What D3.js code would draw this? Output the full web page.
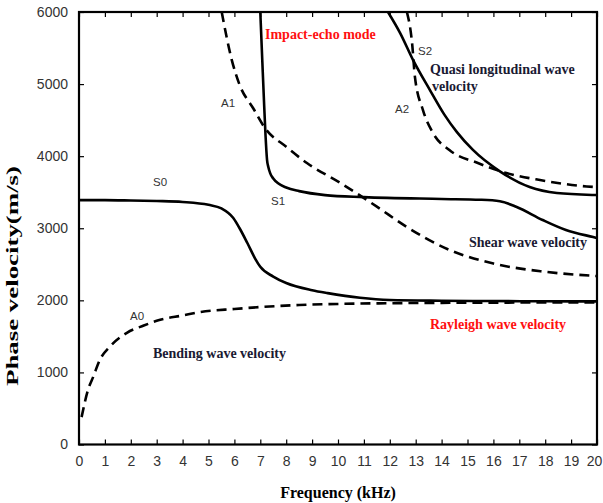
<!DOCTYPE html>
<html>
<head>
<meta charset="utf-8">
<script src="https://cdn.jsdelivr.net/npm/d3@7"></script>
<style>
body { margin: 0; background: #fff; }
svg { display: block; }
</style>
</head>
<body>
<svg width="603" height="503"></svg>
<script>
const width = 603
const height = 503
const margin = {top: 12, right: 6, bottom: 58.5, left: 79}

// x ticks (kHz) and y ticks (m/s)
const xTicks = d3.range(0, 21)
const yTicks = [0, 1000, 2000, 3000, 4000, 5000, 6000]

// symmetric modes (solid)
const s0Freq = [0, 1, 2, 3, 4, 5, 5.5, 5.95, 6.2, 6.5, 6.8, 7, 7.5, 8, 9, 9.6, 10.85, 12, 14, 16, 18, 20]
const s0Vel  = [3390, 3390, 3385, 3378, 3365, 3325, 3275, 3145, 3000, 2795, 2580, 2465, 2330, 2240, 2140, 2100, 2035, 2005, 1995, 1990, 1987, 1985]

const s1Freq = [7.0, 7.08, 7.15, 7.2, 7.26, 7.31, 7.38, 7.5, 7.7, 8.0, 8.5, 9.5, 11, 14, 15.5, 16.25, 16.9, 17.9, 18.8, 19.85, 20]
const s1Vel  = [6000, 5300, 4700, 4300, 3950, 3850, 3765, 3690, 3620, 3565, 3515, 3460, 3432, 3406, 3395, 3375, 3295, 3115, 2976, 2878, 2865]

const s2Freq = [11.93, 12.4, 12.9, 13.55, 14.1, 14.6, 15.2, 16.25, 17.4, 18.45, 19.9, 20]
const s2Vel  = [6000, 5708, 5333, 4917, 4580, 4330, 4090, 3790, 3572, 3489, 3461, 3460]

// antisymmetric modes (dashed)
const a0Freq = [0.1, 0.35, 0.55, 0.8, 1.2, 1.85, 2.5, 3.1, 4, 4.7, 6, 7, 8.5, 10, 12, 14, 16, 18, 20]
const a0Vel  = [380, 760, 940, 1170, 1360, 1550, 1650, 1727, 1790, 1838, 1880, 1907, 1935, 1950, 1960, 1965, 1968, 1970, 1970]

const a1Freq = [5.51, 5.9, 6.2, 6.72, 7.18, 8, 8.8, 10.08, 11.5, 12.66, 14.3, 16, 17.9, 20]
const a1Vel  = [6000, 5333, 4990, 4668, 4390, 4130, 3905, 3630, 3300, 3017, 2700, 2510, 2400, 2337]

const a2Freq = [12.66, 12.86, 12.97, 13.28, 13.67, 14.3, 15.4, 16.5, 17.8, 19.6, 20]
const a2Vel  = [6000, 5570, 5100, 4640, 4320, 4085, 3905, 3766, 3669, 3580, 3570]

const modes = [
	{name: "S0", f: s0Freq, v: s0Vel, dashed: false, lx: 153, ly: 183},
	{name: "S1", f: s1Freq, v: s1Vel, dashed: false, lx: 271, ly: 202},
	{name: "S2", f: s2Freq, v: s2Vel, dashed: false, lx: 418, ly: 52},
	{name: "A0", f: a0Freq, v: a0Vel, dashed: true, lx: 130, ly: 317},
	{name: "A1", f: a1Freq, v: a1Vel, dashed: true, lx: 221, ly: 104},
	{name: "A2", f: a2Freq, v: a2Vel, dashed: true, lx: 395, ly: 110}
]

const svg = d3.select("svg")

const x = d3.scaleLinear().domain([0, 20]).range([margin.left, width - margin.right])
const y = d3.scaleLinear().domain([0, 6000]).range([height - margin.bottom, margin.top])

svg.append("clipPath").attr("id", "plot")
	.append("rect")
	.attr("x", margin.left).attr("y", margin.top)
	.attr("width", width - margin.left - margin.right)
	.attr("height", height - margin.top - margin.bottom)

const line = d3.line()
	.x(d => x(d[0]))
	.y(d => y(d[1]))
	.curve(d3.curveMonotoneX)

const curves = svg.append("g").attr("clip-path", "url(#plot)")
modes.forEach(m => {
	curves.append("path")
		.datum(m.f.map((f, i) => [f, m.v[i]]))
		.attr("d", line)
		.attr("fill", "none")
		.attr("stroke", "#000")
		.attr("stroke-width", 2.6)
		.attr("stroke-dasharray", m.dashed ? "10,6" : null)
})

// axes with inward ticks on all four sides
const tickStyle = g => {
	g.select(".domain").remove()
	g.selectAll(".tick line").attr("stroke", "#000").attr("stroke-width", 1.2)
	g.selectAll(".tick text").attr("fill", "#333")
		.style("font-family", "'Liberation Sans', Arial, sans-serif")
		.style("font-size", "14px")
}

const xAxis = svg.append("g")
	.attr("transform", `translate(0,${height - margin.bottom})`)
	.call(d3.axisBottom(x).tickValues(xTicks).tickSizeInner(-5).tickSizeOuter(0).tickPadding(12))
	.call(tickStyle)
// last label sits at the page edge, nudge it in a little
xAxis.selectAll(".tick text").filter(d => d === 20).attr("dx", -3)

svg.append("g")
	.attr("transform", `translate(0,${margin.top})`)
	.call(d3.axisTop(x).tickValues(xTicks).tickSizeInner(-5).tickSizeOuter(0).tickFormat(""))
	.call(tickStyle)

svg.append("g")
	.attr("transform", `translate(${margin.left},0)`)
	.call(d3.axisLeft(y).tickValues(yTicks).tickFormat(d3.format("d")).tickSizeInner(-5).tickSizeOuter(0).tickPadding(11))
	.call(tickStyle)

svg.append("g")
	.attr("transform", `translate(${width - margin.right},0)`)
	.call(d3.axisRight(y).tickValues(yTicks).tickSizeInner(-5).tickSizeOuter(0).tickFormat(""))
	.call(tickStyle)

// frame
svg.append("rect")
	.attr("x", margin.left).attr("y", margin.top)
	.attr("width", width - margin.left - margin.right)
	.attr("height", height - margin.top - margin.bottom)
	.attr("fill", "none").attr("stroke", "#000").attr("stroke-width", 2.2)

// mode labels
modes.forEach(m => {
	svg.append("text")
		.attr("x", m.lx).attr("y", m.ly)
		.attr("dominant-baseline", "middle")
		.style("font-family", "'Liberation Sans', Arial, sans-serif")
		.style("font-size", "11.5px")
		.attr("fill", "#333")
		.text(m.name)
})

// annotations
const notes = [
	{text: "Impact-echo mode", x: 265, y: 36, color: "#ff1010"},
	{text: "Quasi longitudinal wave", x: 430, y: 71, color: "#1a1a33"},
	{text: "velocity", x: 432, y: 88, color: "#1a1a33"},
	{text: "Shear wave velocity", x: 469, y: 244, color: "#1a1a33"},
	{text: "Rayleigh wave velocity", x: 430, y: 326, color: "#ff1010"},
	{text: "Bending wave velocity", x: 153, y: 355, color: "#1a1a33"}
]
notes.forEach(n => {
	svg.append("text")
		.attr("x", n.x).attr("y", n.y)
		.attr("dominant-baseline", "middle")
		.style("font-family", "'Liberation Serif', 'Times New Roman', serif")
		.style("font-weight", "bold")
		.style("font-size", "14px")
		.attr("fill", n.color)
		.text(n.text)
})

// axis titles
svg.append("text")
	.attr("x", (margin.left + width - margin.right) / 2)
	.attr("y", 494)
	.attr("text-anchor", "middle")
	.attr("dominant-baseline", "middle")
	.style("font-family", "'Liberation Serif', 'Times New Roman', serif")
	.style("font-weight", "bold")
	.style("font-size", "16px")
	.text("Frequency (kHz)")

svg.append("text")
	.attr("transform", "translate(14,276) rotate(-90)")
	.attr("text-anchor", "middle")
	.attr("dominant-baseline", "middle")
	.attr("textLength", 220)
	.attr("lengthAdjust", "spacingAndGlyphs")
	.style("font-family", "'Liberation Serif', 'Times New Roman', serif")
	.style("font-weight", "bold")
	.style("font-size", "16.5px")
	.text("Phase velocity(m/s)")
</script>
</body>
</html>
